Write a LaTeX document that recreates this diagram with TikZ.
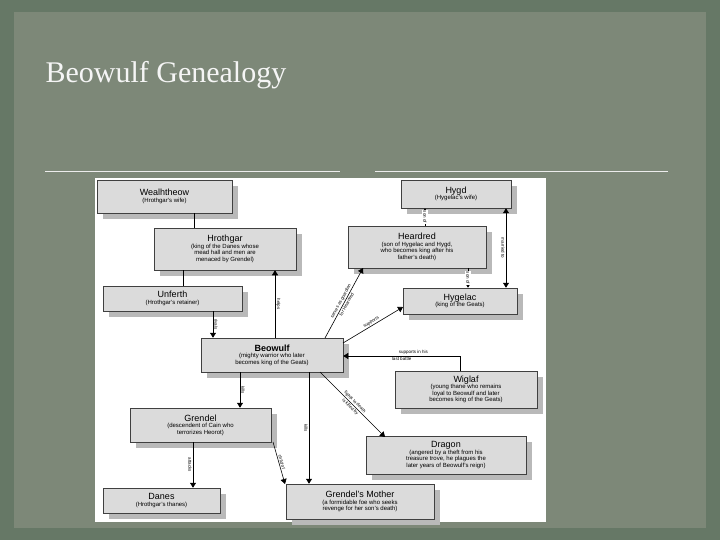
\documentclass[tikz,border=0pt]{standalone}
\usepackage{fontspec}
\usetikzlibrary{shadows,arrows.meta}
\setmainfont{Liberation Sans}
\newfontfamily\titlefont{Liberation Serif}
\begin{document}
\begin{tikzpicture}[x=1pt,y=-1pt,
  bx/.style={draw=black!75,fill=gray!28,line width=0.5pt,inner sep=0pt,align=center,font=\fontsize{6}{6.5}\selectfont,
    drop shadow={shadow xshift=6pt,shadow yshift=-6pt,fill=gray!55,opacity=1}},
  lab/.style={font=\fontsize{4.5}{5}\selectfont,inner sep=1pt},
  arr/.style={-{Triangle[length=5pt,width=6pt]},line width=0.6pt},
  ln/.style={line width=0.6pt}]
\fill[black!65!green!20!gray] (0,0) rectangle (720,540);
\fill[fill={rgb,255:red,125;green,136;blue,120}] (14,12) rectangle (706,528);
\node[anchor=west,text=white!92!gray,font=\titlefont\fontsize{30}{32}\selectfont] (title) at (42,75) {Beowulf Genealogy};
\draw[white!85!gray,line width=1pt] (45,172) -- (340,172) (375,172) -- (668,172);
\fill[white] (95,178) rectangle (546,522);
\newcommand{\bbox}[6]{\node[bx,minimum width=#4-#2,minimum height=#5-#3] (#1) at ({(#2+#4)/2},{(#3+#5)/2}) {#6};}
\bbox{wea}{97}{180}{232}{213}{{\fontsize{9}{10}\selectfont Wealhtheow}\\(Hrothgar's wife)}
\bbox{hro}{154}{228}{296}{270}{{\fontsize{9}{10}\selectfont Hrothgar}\\(king of the Danes whose\\mead hall and men are\\menaced by Grendel)}
\bbox{unf}{103}{286}{242}{311}{{\fontsize{9}{10}\selectfont Unferth}\\(Hrothgar's retainer)}
\bbox{beo}{201}{338}{343}{372}{{\fontsize{9}{10}\selectfont\bfseries Beowulf}\\(mighty warrior who later\\becomes king of the Geats)}
\bbox{hyd}{401}{180}{511}{208}{{\fontsize{9}{10}\selectfont Hygd}\\(Hygelac's wife)}
\bbox{hea}{348}{226}{486}{268}{{\fontsize{9}{10}\selectfont Heardred}\\(son of Hygelac and Hygd,\\who becomes king after his\\father's death)}
\bbox{hyg}{403}{288}{517}{314}{{\fontsize{9}{10}\selectfont Hygelac}\\(king of the Geats)}
\bbox{wig}{395}{371}{537}{408}{{\fontsize{9}{10}\selectfont Wiglaf}\\(young thane who remains\\loyal to Beowulf and later\\becomes king of the Geats)}
\bbox{gre}{130}{408}{271}{442}{{\fontsize{9}{10}\selectfont Grendel}\\(descendent of Cain who\\terrorizes Heorot)}
\bbox{dra}{366}{436}{526}{474}{{\fontsize{9}{10}\selectfont Dragon}\\(angered by a theft from his\\treasure trove, he plagues the\\later years of Beowulf's reign)}
\bbox{dan}{103}{488}{220}{513}{{\fontsize{9}{10}\selectfont Danes}\\(Hrothgar's thanes)}
\bbox{gmo}{286}{484}{434}{519}{{\fontsize{9}{10}\selectfont Grendel's Mother}\\(a formidable foe who seeks\\revenge for her son's death)}
\draw[ln] (wea.south -| 194,0) -- (hro.north -| 194,0);
\draw[ln] (hro.south -| 183,0) -- (unf.north -| 183,0);
\draw[arr] (unf.south -| 213,0) -- node[lab,rotate=-90,anchor=south]{rivals} (beo.north -| 213,0);
\draw[arr] (beo.north -| 275,0) -- node[lab,rotate=-90,anchor=south]{helps} (hro.south -| 275,0);
\coordinate (b1) at (325,338); \coordinate (h1) at (363,268);
\draw[arr] (b1) -- node[lab,sloped,above]{serves as guardian} node[lab,sloped,below]{for Heardred} (h1);
\coordinate (b2) at (343,343); \coordinate (h2) at (403,307);
\draw[arr] (b2) -- node[lab,sloped,above]{supports} (h2);
\draw[arr] (hea.north -| 425,0) -- node[lab,rotate=-90,fill=white]{son of} (hyd.south -| 425,0);
\draw[arr] (hea.south -| 468,0) -- node[lab,rotate=-90,fill=white]{son of} (hyg.north -| 468,0);
\draw[arr,{Triangle[length=5pt,width=6pt]}-{Triangle[length=5pt,width=6pt]}] (hyd.south -| 506,0) -- node[lab,rotate=-90,anchor=north]{married to} (hyg.north -| 506,0);
\coordinate (w1) at (460,356);
\draw[arr] (wig.north -| 460,0) -- (w1) -- node[lab,above,pos=0.4]{supports in his} node[lab,below,pos=0.5]{last battle} (beo.east |- w1);
\draw[arr] (beo.south -| 240,0) -- node[lab,rotate=-90,anchor=south]{kills} (gre.north -| 240,0);
\draw[arr] (beo.south -| 309,0) -- node[lab,rotate=-90,anchor=north]{kills} (gmo.north -| 309,0);
\coordinate (b3) at (320,372); \coordinate (d3) at (385,437);
\draw[arr] (b3) -- node[lab,sloped,above]{fights to death} node[lab,sloped,below]{is killed by} (d3);
\draw[arr] (gre.south -| 193,0) -- node[lab,rotate=-90,anchor=north]{attacks} (dan.north -| 193,0);
\coordinate (g4) at (273,442); \coordinate (m4) at (285,484);
\draw[arr] (g4) -- node[lab,sloped,above]{child of} (m4);
\end{tikzpicture}
\end{document}
